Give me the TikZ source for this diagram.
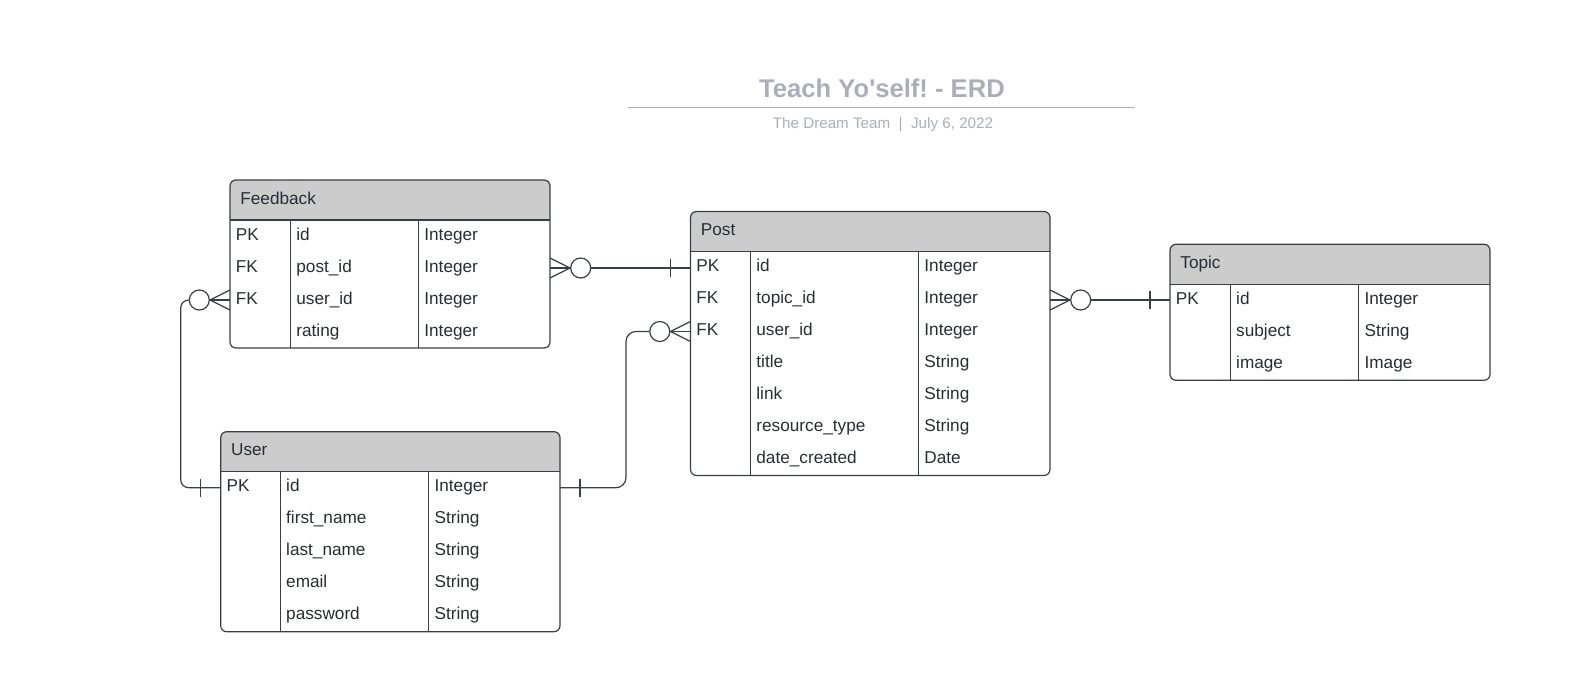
\documentclass[tikz,border=0pt]{standalone}
\usepackage{fontspec}
\setmainfont{Liberation Sans}
\usetikzlibrary{calc}
\frenchspacing

\definecolor{hdrgray}{HTML}{CCCCCC}
\definecolor{inkc}{HTML}{282C33}
\definecolor{edgec}{HTML}{3A3F47}
\definecolor{titlec}{HTML}{A9AEB8}

\tikzset{
	tbl/.style={draw=edgec, line width=0.6pt},
	cell/.style={anchor=base west, inner sep=0pt, text=inkc, font=\fontsize{8.6}{10}\selectfont},
	conn/.style={draw=edgec, line width=0.6pt},
	zcirc/.style={circle, draw=edgec, line width=0.6pt, fill=white, minimum size=10pt, inner sep=0pt},
}

\begin{document}
\begin{tikzpicture}[x=0.5pt, y=-0.5pt]
		\useasboundingbox (0, 0) rectangle (1596, 696);

		% タイトル
		\node[anchor=base, inner sep=0pt, text=titlec, font=\bfseries\fontsize{12.8}{14}\selectfont] (title) at (882, 97.3) {Teach Yo\textquotesingle self! - ERD};
		\draw[titlec, line width=0.75pt] (628.3, 107.7) -- (1135, 107.7);
		\node[anchor=base, inner sep=0pt, text=titlec, font=\fontsize{7.6}{9}\selectfont] (subtitle) at (883, 128.3) {The Dream Team~~|~~July 6, 2022};

		% Feedback
		\begin{scope}
			\clip[rounded corners=3pt] (230, 180) rectangle (550, 348);
			\fill[hdrgray] (230, 180) rectangle (550, 220);
		\end{scope}
		\draw[tbl, rounded corners=3pt] (230, 180) rectangle (550, 348);
		\draw[tbl] (230, 220) -- (550, 220);
		\draw[tbl] (290.5, 220) -- (290.5, 348);
		\draw[tbl] (418.5, 220) -- (418.5, 348);
		\node[cell] (fb-h) at (240, 204) {Feedback};
		\node[cell] (fb-k1) at (235.5, 240) {PK};
		\node[cell] (fb-n1) at (296, 240) {id};
		\node[cell] (fb-t1) at (424, 240) {Integer};
		\node[cell] (fb-k2) at (235.5, 272) {FK};
		\node[cell] (fb-n2) at (296, 272) {post\_id};
		\node[cell] (fb-t2) at (424, 272) {Integer};
		\node[cell] (fb-k3) at (235.5, 304) {FK};
		\node[cell] (fb-n3) at (296, 304) {user\_id};
		\node[cell] (fb-t3) at (424, 304) {Integer};
		\node[cell] (fb-n4) at (296, 336) {rating};
		\node[cell] (fb-t4) at (424, 336) {Integer};

		% Post
		\begin{scope}
			\clip[rounded corners=3pt] (690.5, 211.5) rectangle (1050, 475.5);
			\fill[hdrgray] (690.5, 211.5) rectangle (1050, 251.5);
		\end{scope}
		\draw[tbl, rounded corners=3pt] (690.5, 211.5) rectangle (1050, 475.5);
		\draw[tbl] (690.5, 251.5) -- (1050, 251.5);
		\draw[tbl] (750.5, 251.5) -- (750.5, 475.5);
		\draw[tbl] (918.5, 251.5) -- (918.5, 475.5);
		\node[cell] (post-h) at (700.5, 235.5) {Post};
		\node[cell] (post-k1) at (696, 271.5) {PK};
		\node[cell] (post-n1) at (756, 271.5) {id};
		\node[cell] (post-t1) at (924, 271.5) {Integer};
		\node[cell] (post-k2) at (696, 303.5) {FK};
		\node[cell] (post-n2) at (756, 303.5) {topic\_id};
		\node[cell] (post-t2) at (924, 303.5) {Integer};
		\node[cell] (post-k3) at (696, 335.5) {FK};
		\node[cell] (post-n3) at (756, 335.5) {user\_id};
		\node[cell] (post-t3) at (924, 335.5) {Integer};
		\node[cell] (post-n4) at (756, 367.5) {title};
		\node[cell] (post-t4) at (924, 367.5) {String};
		\node[cell] (post-n5) at (756, 399.5) {link};
		\node[cell] (post-t5) at (924, 399.5) {String};
		\node[cell] (post-n6) at (756, 431.5) {resource\_type};
		\node[cell] (post-t6) at (924, 431.5) {String};
		\node[cell] (post-n7) at (756, 463.5) {date\_created};
		\node[cell] (post-t7) at (924, 463.5) {Date};

		% Topic
		\begin{scope}
			\clip[rounded corners=3pt] (1170, 244.3) rectangle (1490, 380.3);
			\fill[hdrgray] (1170, 244.3) rectangle (1490, 284.3);
		\end{scope}
		\draw[tbl, rounded corners=3pt] (1170, 244.3) rectangle (1490, 380.3);
		\draw[tbl] (1170, 284.3) -- (1490, 284.3);
		\draw[tbl] (1230.3, 284.3) -- (1230.3, 380.3);
		\draw[tbl] (1358.7, 284.3) -- (1358.7, 380.3);
		\node[cell] (topic-h) at (1180, 268.3) {Topic};
		\node[cell] (topic-k1) at (1175.5, 304.3) {PK};
		\node[cell] (topic-n1) at (1235.8, 304.3) {id};
		\node[cell] (topic-t1) at (1364.2, 304.3) {Integer};
		\node[cell] (topic-n2) at (1235.8, 336.3) {subject};
		\node[cell] (topic-t2) at (1364.2, 336.3) {String};
		\node[cell] (topic-n3) at (1235.8, 368.3) {image};
		\node[cell] (topic-t3) at (1364.2, 368.3) {Image};

		% User
		\begin{scope}
			\clip[rounded corners=3pt] (220.7, 431.7) rectangle (560, 631.7);
			\fill[hdrgray] (220.7, 431.7) rectangle (560, 471.7);
		\end{scope}
		\draw[tbl, rounded corners=3pt] (220.7, 431.7) rectangle (560, 631.7);
		\draw[tbl] (220.7, 471.7) -- (560, 471.7);
		\draw[tbl] (280.3, 471.7) -- (280.3, 631.7);
		\draw[tbl] (428.7, 471.7) -- (428.7, 631.7);
		\node[cell] (user-h) at (230.7, 455.7) {User};
		\node[cell] (user-k1) at (226.2, 491.7) {PK};
		\node[cell] (user-n1) at (285.8, 491.7) {id};
		\node[cell] (user-t1) at (434.2, 491.7) {Integer};
		\node[cell] (user-n2) at (285.8, 523.7) {first\_name};
		\node[cell] (user-t2) at (434.2, 523.7) {String};
		\node[cell] (user-n3) at (285.8, 555.7) {last\_name};
		\node[cell] (user-t3) at (434.2, 555.7) {String};
		\node[cell] (user-n4) at (285.8, 587.7) {email};
		\node[cell] (user-t4) at (434.2, 587.7) {String};
		\node[cell] (user-n5) at (285.8, 619.7) {password};
		\node[cell] (user-t5) at (434.2, 619.7) {String};

		% Feedback -- Post
		\coordinate (fbR2) at (550, 268);
		\coordinate (postL1) at (690.5, 268);
		\node[zcirc] (c1) at (580.7, 268) {};
		\draw[conn] ($(fbR2)+(0, -10)$) -- (c1.west) -- ($(fbR2)+(0, 10)$);
		\draw[conn] (fbR2) -- (c1.west);
		\draw[conn] (c1.east) -- (postL1);
		\draw[conn] ($(postL1)+(-20, -9)$) -- ++(0, 18);

		% Post -- Topic
		\coordinate (postR2) at (1050, 300);
		\coordinate (topicL1) at (1170, 300);
		\node[zcirc] (c2) at (1080.7, 300) {};
		\draw[conn] ($(postR2)+(0, -10)$) -- (c2.west) -- ($(postR2)+(0, 10)$);
		\draw[conn] (postR2) -- (c2.west);
		\draw[conn] (c2.east) -- (topicL1);
		\draw[conn] ($(topicL1)+(-20, -9)$) -- ++(0, 18);

		% Feedback -- User
		\coordinate (fbL3) at (230, 300);
		\coordinate (userL1) at (220.7, 487.7);
		\node[zcirc] (c3) at (199.3, 300) {};
		\draw[conn] ($(fbL3)+(0, -10)$) -- (c3.east) -- ($(fbL3)+(0, 10)$);
		\draw[conn] (fbL3) -- (c3.east);
		\draw[conn, rounded corners=4pt] (c3.west) -- ++(-8, 0) |- (userL1);
		\draw[conn] ($(userL1)+(-20, -9)$) -- ++(0, 18);

		% User -- Post
		\coordinate (userR1) at (560, 487.7);
		\coordinate (postL3) at (690.5, 331.5);
		\node[zcirc] (c4) at (659.8, 331.5) {};
		\draw[conn] ($(postL3)+(0, -10)$) -- (c4.east) -- ($(postL3)+(0, 10)$);
		\draw[conn] (postL3) -- (c4.east);
		\draw[conn, rounded corners=5pt] (userR1) -- ++(66, 0) |- (c4.west);
		\draw[conn] ($(userR1)+(20, -9)$) -- ++(0, 18);
\end{tikzpicture}
\end{document}
